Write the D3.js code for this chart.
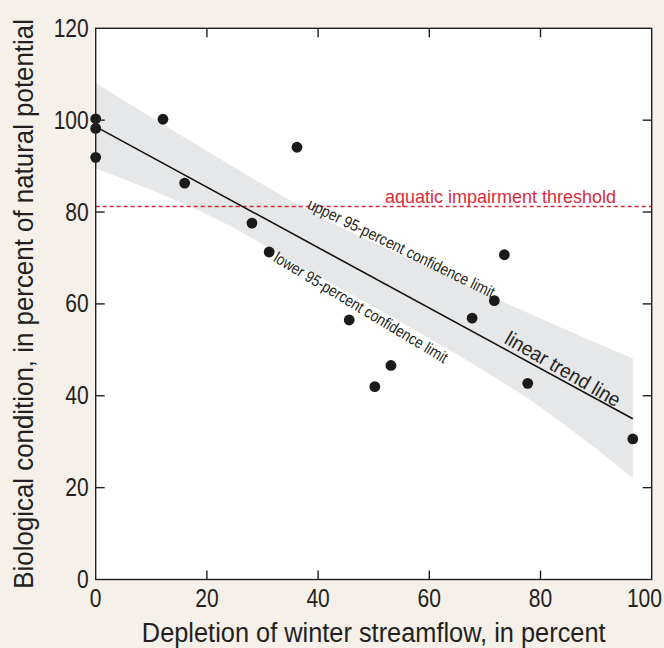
<!DOCTYPE html>
<html lang="en">

<head>
  <meta charset="utf-8">
  <title>Biological condition vs winter streamflow depletion</title>
  <script type="text/javascript" src="https://d3js.org/d3.v7.min.js"></script>
  <style>
    body { margin: 0; background: #f5f0e9; }
    svg text { font-family: "Liberation Sans", Arial, sans-serif; fill: #231f20; }
  </style>
</head>

<body>
  <script type="text/javascript">
    // sites: winter streamflow depletion (%) and biological condition (% of natural potential)
    const depletion = [0, 0, 0, 12.1, 16.0, 28.1, 31.2, 36.2, 45.6, 50.2, 53.1, 67.7, 71.7, 73.5, 77.7, 96.6];
    const condition = [100.3, 98.2, 91.9, 100.2, 86.3, 77.6, 71.3, 94.1, 56.5, 42.0, 46.6, 56.9, 60.7, 70.7, 42.7, 30.6];

    // linear trend line end points
    const trendX = [0, 96.6];
    const trendY = [98.6, 35.0];

    // 95-percent confidence band
    const bandX = [0, 20, 40, 60, 80, 96.6];
    const bandUpper = [108.1, 93.3, 79.2, 67.8, 56.8, 48.1];
    const bandLower = [89.5, 79.5, 66.0, 52.5, 37.5, 22.1];

    const threshold = 81.2;

    const xTicks = [0, 20, 40, 60, 80, 100];
    const yTicks = [0, 20, 40, 60, 80, 100, 120];

    const width = 664;
    const height = 648;
    const margin = { top: 28.3, right: 12.3, bottom: 68.5, left: 95.7 };

    const svg = d3.select("body").append("svg").attr("width", width).attr("height", height);
    svg.append("rect").attr("width", width).attr("height", height).attr("fill", "#f5f0e9");

    const x = d3.scaleLinear().domain([0, 100]).range([margin.left, width - margin.right]);
    const y = d3.scaleLinear().domain([0, 120]).range([height - margin.bottom, margin.top]);

    // no condensed font available: draw regular glyphs and scale them
    // horizontally to the width they have in the original
    function label(parent, str, px, py, opts) {
      const o = Object.assign({ rot: 0, size: 16, anchor: "start", fill: "#231f20", dy: 0 }, opts);
      const t = parent.append("text")
        .attr("font-size", o.size)
        .attr("text-anchor", o.anchor)
        .attr("dy", o.dy)
        .style("fill", o.fill)
        .text(str);
      const natural = t.node().getComputedTextLength();
      const s = o.len ? o.len / natural : 1;
      t.attr("transform", `translate(${px},${py}) rotate(${o.rot}) scale(${s},1)`);
      return t;
    }

    svg.append("rect")
      .attr("x", x(0)).attr("y", y(120))
      .attr("width", x(100) - x(0)).attr("height", y(0) - y(120))
      .attr("fill", "#fff");

    // confidence band
    const band = bandX.map((d, i) => ({ x: d, hi: bandUpper[i], lo: bandLower[i] }));
    svg.append("path")
      .datum(band)
      .attr("fill", "#e6e7e8")
      .attr("d", d3.area()
        .x(d => x(d.x))
        .y0(d => y(d.lo))
        .y1(d => y(d.hi))
        .curve(d3.curveMonotoneX));

    // threshold
    svg.append("line")
      .attr("x1", x(0)).attr("x2", x(100))
      .attr("y1", y(threshold)).attr("y2", y(threshold))
      .attr("stroke", "#d92b3a").attr("stroke-width", 1.5)
      .attr("stroke-dasharray", "4,3");

    label(svg, "aquatic impairment threshold", 385, y(threshold) - 4,
      { size: 19, len: 231, fill: "#d92b3a" });

    // trend line
    svg.append("line")
      .attr("x1", x(trendX[0])).attr("y1", y(trendY[0]))
      .attr("x2", x(trendX[1])).attr("y2", y(trendY[1]))
      .attr("stroke", "#111").attr("stroke-width", 1.6);

    // points
    svg.selectAll("circle")
      .data(depletion.map((d, i) => [d, condition[i]]))
      .enter()
      .append("circle")
      .attr("cx", d => x(d[0]))
      .attr("cy", d => y(d[1]))
      .attr("r", 5.4)
      .attr("fill", "#1a1a1a");

    // rotated labels
    const trendAngle = Math.atan2(y(trendY[1]) - y(trendY[0]), x(trendX[1]) - x(trendX[0])) * 180 / Math.PI;
    label(svg, "upper 95-percent confidence limit", x(37.9), y(80.9), { rot: 26, size: 16, len: 206 });
    label(svg, "lower 95-percent confidence limit", x(31.8), y(69.4), { rot: 31, size: 16, len: 200 });
    label(svg, "linear trend line", x(73.3), y(51.6), { rot: trendAngle + 1.5, size: 20, len: 130 });

    // axes frame
    const frame = svg.append("g").attr("stroke", "#231f20").attr("stroke-width", 1.4).attr("fill", "none");
    frame.append("rect")
      .attr("x", x(0)).attr("y", y(120))
      .attr("width", x(100) - x(0)).attr("height", y(0) - y(120));

    const tickLen = 9;
    xTicks.slice(1, -1).forEach(t => {
      frame.append("line").attr("x1", x(t)).attr("x2", x(t)).attr("y1", y(0)).attr("y2", y(0) - tickLen);
      frame.append("line").attr("x1", x(t)).attr("x2", x(t)).attr("y1", y(120)).attr("y2", y(120) + tickLen);
    });
    yTicks.slice(1, -1).forEach(t => {
      frame.append("line").attr("x1", x(0)).attr("x2", x(0) + tickLen).attr("y1", y(t)).attr("y2", y(t));
      frame.append("line").attr("x1", x(100)).attr("x2", x(100) - tickLen).attr("y1", y(t)).attr("y2", y(t));
    });

    // tick labels
    const digitW = 11.7;
    xTicks.forEach(d => {
      const last = d === 100;
      label(svg, String(d), last ? width - 2 : x(d), y(0) + 27,
        { size: 26, len: String(d).length * digitW, anchor: last ? "end" : "middle" });
    });
    yTicks.forEach(d => {
      label(svg, String(d), x(0) - 7, y(d),
        { size: 26, len: String(d).length * digitW, anchor: "end", dy: "0.33em" });
    });

    // axis titles
    label(svg, "Depletion of winter streamflow, in percent", (x(0) + x(100)) / 2, 642,
      { size: 28, len: 464, anchor: "middle" });
    label(svg, "Biological condition, in percent of natural potential", 33, (y(0) + y(120)) / 2,
      { size: 28, len: 570, anchor: "middle", rot: -90 });
  </script>
</body>

</html>
